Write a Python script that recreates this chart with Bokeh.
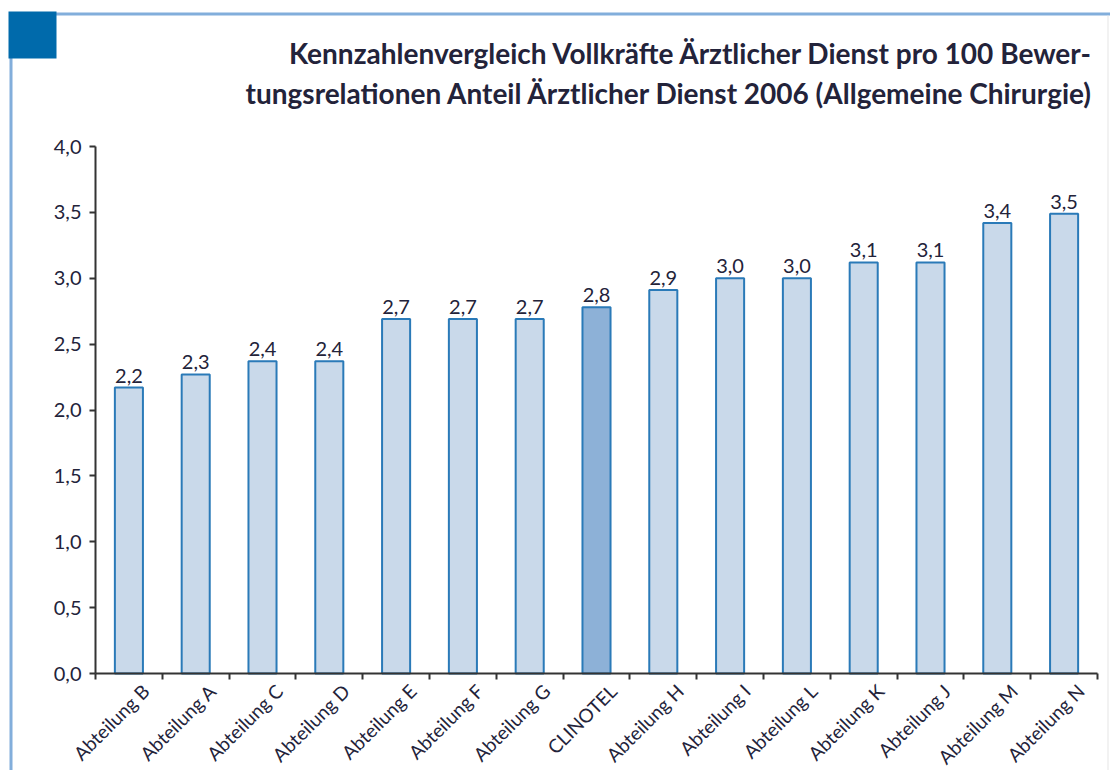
from bokeh.plotting import figure
from bokeh.models import Range1d, FixedTicker, BoxAnnotation, Label, ColumnDataSource
from bokeh.core.properties import value
from bokeh.embed import file_html
from bokeh.resources import INLINE

categories = ["Abteilung B", "Abteilung A", "Abteilung C", "Abteilung D", "Abteilung E",
              "Abteilung F", "Abteilung G", "CLINOTEL", "Abteilung H", "Abteilung I",
              "Abteilung L", "Abteilung K", "Abteilung J", "Abteilung M", "Abteilung N"]
values = [2.17, 2.27, 2.37, 2.37, 2.69, 2.69, 2.69, 2.78, 2.91, 3.0, 3.0, 3.12, 3.12, 3.42, 3.49]
highlight = "CLINOTEL"
y_ticks = [0.0, 0.5, 1.0, 1.5, 2.0, 2.5, 3.0, 3.5, 4.0]
title_lines = ["Kennzahlenvergleich Vollkräfte Ärztlicher Dienst pro 100 Bewer-",
               "tungsrelationen Anteil Ärztlicher Dienst 2006 (Allgemeine Chirurgie)"]

FONT = "Lato"
TXT = "#23233a"

# layout (pixels)
W, H = 1110, 770
FRAME_LEFT = 95        # pixel column of the y axis
FRAME_W = 1002         # width of the category band
AXIS_TOP_PX = 146      # pixel row of y = 4.0
AXIS_ZERO_PX = 673     # pixel row of y = 0
Y_MAX = 4.0
n = len(categories)
ppu_y = (AXIS_ZERO_PX - AXIS_TOP_PX) / Y_MAX
ppu_x = FRAME_W / n

def dx(px):   # canvas px -> data x
    return (px - FRAME_LEFT) / ppu_x

def dy(py):   # canvas px -> data y
    return (AXIS_ZERO_PX - py) / ppu_y

xs = [i + 0.5 for i in range(n)]
label_pos = [x + 0.25 for x in xs]
fills = ["#8db1d7" if c == highlight else "#c9d9ea" for c in categories]
labels = [f"{v:.1f}".replace(".", ",") for v in values]
src = ColumnDataSource(dict(x=xs, top=values, fill=fills, label=labels))

p = figure(width=W, height=H,
           x_range=Range1d(dx(0), dx(W)), y_range=Range1d(dy(H), dy(0)),
           output_backend="svg", toolbar_location=None,
           min_border_left=0, min_border_right=0, min_border_top=0, min_border_bottom=0)
p.outline_line_color = None
p.xgrid.visible = False
p.ygrid.visible = False

p.vbar(x="x", top="top", bottom=0, width=0.42, source=src, fill_color="fill",
       line_color="#2a7ab8", line_width=2)
p.text(x="x", y="top", text="label", source=src, text_align="center", text_baseline="bottom",
       y_offset=-5, text_font=value(FONT), text_font_size="20px", text_color=TXT)

# y axis
ya = p.yaxis[0]
ya.fixed_location = 0
ya.ticker = FixedTicker(ticks=y_ticks)
ya.bounds = (0, Y_MAX)
ya.major_label_overrides = {t: f"{t:.1f}".replace(".", ",") for t in y_ticks}
ya.minor_tick_line_color = None
ya.major_tick_in = 0
ya.major_tick_out = 6
ya.axis_line_color = "#333333"
ya.axis_line_width = 2
ya.major_tick_line_color = "#333333"
ya.major_tick_line_width = 2
ya.major_label_text_font = FONT
ya.major_label_text_font_size = "20px"
ya.major_label_text_color = TXT
ya.major_label_standoff = 8

# x axis
xa = p.xaxis[0]
xa.fixed_location = 0
xa.bounds = (0, n)
xa.ticker = FixedTicker(ticks=label_pos, minor_ticks=list(range(n + 1)))
xa.major_label_overrides = {x: c for x, c in zip(label_pos, categories)}
xa.major_tick_in = 0
xa.major_tick_out = 0
xa.minor_tick_in = 0
xa.minor_tick_out = 6
xa.minor_tick_line_color = "#333333"
xa.minor_tick_line_width = 2
xa.axis_line_color = "#333333"
xa.axis_line_width = 2
xa.major_label_orientation = 0.785
xa.major_label_text_font = FONT
xa.major_label_text_font_size = "19px"
xa.major_label_text_color = TXT
xa.major_label_standoff = 8

# title
for line, base_px in zip(title_lines, [52, 92]):
    p.add_layout(Label(x=dx(1093), y=dy(base_px), text=line, text_align="right",
                       text_baseline="alphabetic", text_font=FONT, text_font_size="28px",
                       text_font_style="bold", text_color=TXT))

# frame decoration
LINE = "#82aedb"
p.add_layout(BoxAnnotation(left=dx(9), right=dx(W), top=dy(12), bottom=dy(15),
                           fill_color=LINE, fill_alpha=1, line_color=None))
p.add_layout(BoxAnnotation(left=dx(9), right=dx(12), top=dy(12), bottom=dy(H),
                           fill_color=LINE, fill_alpha=1, line_color=None))
p.add_layout(BoxAnnotation(left=dx(1107), right=dx(1108), top=dy(15), bottom=dy(H),
                           fill_color="#e6e6e6", fill_alpha=1, line_color=None))
p.add_layout(BoxAnnotation(left=dx(8), right=dx(56), top=dy(11), bottom=dy(58),
                           fill_color="#006aab", fill_alpha=1, line_color=None))

open("out.html", "w").write(file_html(p, INLINE))
